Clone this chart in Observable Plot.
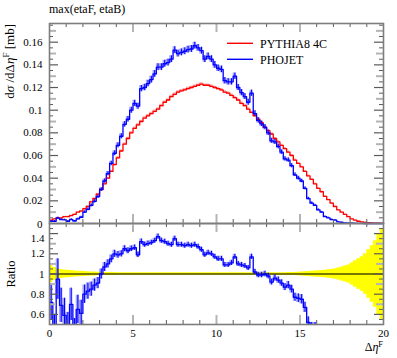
<!DOCTYPE html>
<html><head><meta charset="utf-8">
<script src="https://cdn.jsdelivr.net/npm/d3@7"></script>
<script src="https://cdn.jsdelivr.net/npm/@observablehq/plot@0.6"></script>
<style>
body{margin:0;background:#fff;}
#chart{position:relative;width:397px;height:358px;overflow:hidden;background:#fff;}
#chart svg{position:absolute;left:0;overflow:visible;}
</style></head><body><div id="chart"></div>
<script>
// ---------- data (bin width 0.2 on Δη^F from 0 to 20) ----------
const binEdges = d3.range(101).map(i => +(i * 0.2).toFixed(1));

const pythia = [
0.003,0.004,0.005,0.005,0.006,0.006,0.007,0.008,0.010,0.011,
0.013,0.015,0.019,0.022,0.026,0.030,0.035,0.040,0.046,0.052,
0.058,0.064,0.070,0.075,0.080,0.084,0.087,0.090,0.093,0.095,
0.097,0.099,0.101,0.104,0.107,0.109,0.112,0.114,0.116,0.117,
0.118,0.119,0.120,0.121,0.122,0.123,0.122,0.122,0.121,0.120,
0.119,0.118,0.116,0.115,0.113,0.111,0.109,0.106,0.104,0.101,
0.098,0.095,0.092,0.089,0.085,0.082,0.079,0.075,0.072,0.069,
0.066,0.063,0.060,0.056,0.053,0.050,0.046,0.042,0.039,0.035,
0.031,0.028,0.024,0.021,0.018,0.015,0.012,0.010,0.008,0.006,
0.004,0.003,0.002,0.0015,0.001,0.0007,0.0005,0.0003,0.0002,0.0001];

const pythiaErr = [
0.0003,0.0003,0.0003,0.0003,0.0003,0.0003,0.0004,0.0004,0.0004,0.0005,
0.0005,0.0006,0.0006,0.0007,0.0007,0.0008,0.0008,0.0009,0.0009,0.001,
0.001,0.001,0.001,0.0011,0.0011,0.0011,0.0011,0.0011,0.0011,0.0011,
0.0012,0.0012,0.0012,0.0012,0.0012,0.0012,0.0012,0.0012,0.0012,0.0012,
0.0012,0.0012,0.0012,0.0012,0.0012,0.0012,0.0012,0.0012,0.0012,0.0012,
0.0012,0.0012,0.0012,0.0012,0.0012,0.0012,0.0012,0.0012,0.0012,0.0012,
0.0011,0.0011,0.0011,0.0011,0.0011,0.0011,0.001,0.001,0.001,0.001,
0.001,0.0009,0.0009,0.0009,0.0009,0.0008,0.0008,0.0008,0.0007,0.0007,
0.0006,0.0006,0.0006,0.0005,0.0005,0.0005,0.0004,0.0004,0.0003,0.0003,
0.0003,0.0002,0.0002,0.0002,0.0001,0.0001,0.0001,0.0001,0.0001,0.0001];

const phojet = [
0.002,0.002,0.0048,0.0035,0.0032,0.002,0.0035,0.0022,0.004,0.0055,
0.0100,0.0125,0.0160,0.0196,0.0237,0.030,0.0375,0.044,0.053,0.062,
0.069,0.077,0.0875,0.092,0.100,0.106,0.1035,0.119,0.120,0.1235,
0.127,0.132,0.138,0.138,0.141,0.142,0.145,0.153,0.150,0.151,
0.152,0.1535,0.154,0.157,0.155,0.1525,0.145,0.1475,0.145,0.140,
0.137,0.136,0.126,0.125,0.125,0.130,0.120,0.1155,0.112,0.107,
0.115,0.097,0.091,0.088,0.085,0.080,0.073,0.072,0.068,0.063,
0.057,0.056,0.051,0.043,0.040,0.0375,0.031,0.022,0.018,0.016,
0.012,0.010,0.006,0.005,0.0035,0.003,0.0015,0.001,0.0006,0.0004,
0.0002,0.0001,0.0001,0.0001,0,0,0,0,0,0];

const phojetErr = [
0.0005,0.0005,0.0008,0.0007,0.0006,0.0005,0.0007,0.0005,0.0007,0.0008,
0.0011,0.0012,0.0013,0.0014,0.0015,0.0016,0.0018,0.0019,0.002,0.0021,
0.0022,0.0023,0.0024,0.0025,0.0026,0.0027,0.0027,0.0028,0.0028,0.0029,
0.003,0.003,0.003,0.003,0.003,0.003,0.003,0.003,0.003,0.003,
0.003,0.003,0.003,0.003,0.003,0.003,0.003,0.003,0.003,0.003,
0.0029,0.0029,0.0028,0.0028,0.0028,0.0028,0.0027,0.0027,0.0026,0.0026,
0.0027,0.0025,0.0024,0.0024,0.0023,0.0023,0.0022,0.0022,0.0021,0.002,
0.0019,0.0019,0.0018,0.0016,0.0016,0.0015,0.0013,0.0011,0.001,0.0009,
0.0008,0.0007,0.0006,0.0005,0.0004,0.0004,0.0003,0.0003,0.0002,0.0002,
0.0001,0.0001,0,0,0,0,0,0,0,0];

// PHOJET / PYTHIA8 4C
const ratio = [
0.72,0.40,0.95,0.69,0.59,0.42,0.70,0.36,0.65,0.61,
0.80,0.83,0.85,0.89,0.91,1.00,1.07,1.10,1.15,1.20,
1.19,1.20,1.25,1.23,1.25,1.26,1.19,1.32,1.29,1.30,
1.31,1.33,1.37,1.33,1.32,1.30,1.29,1.35,1.29,1.29,
1.28,1.29,1.28,1.29,1.27,1.24,1.19,1.21,1.20,1.17,
1.15,1.15,1.09,1.09,1.11,1.17,1.10,1.09,1.08,1.06,
1.17,1.02,0.99,0.99,1.00,0.98,0.92,0.96,0.94,0.91,
0.87,0.89,0.85,0.77,0.76,0.75,0.67,0.52,0.46,0.46,
0.39,0.36,0.25,0.24,0.19,0.16,0.12,null,null,null,
null,null,null,null,null,null,null,null,null,null];

const ratioErr = [
0.18,0.2,0.2,0.17,0.17,0.2,0.16,0.2,0.14,0.13,
0.09,0.08,0.07,0.06,0.055,0.05,0.045,0.04,0.038,0.035,
0.033,0.031,0.03,0.029,0.028,0.027,0.027,0.027,0.026,0.026,
0.025,0.025,0.025,0.025,0.025,0.025,0.025,0.025,0.025,0.025,
0.025,0.025,0.025,0.025,0.025,0.025,0.025,0.025,0.025,0.025,
0.025,0.025,0.025,0.025,0.025,0.025,0.025,0.025,0.025,0.025,
0.026,0.026,0.027,0.027,0.028,0.028,0.029,0.03,0.031,0.032,
0.034,0.036,0.038,0.04,0.043,0.046,0.05,0.055,0.06,0.06,
0.06,0.06,0.06,0.06,0.06,0.06,0.06,0,0,0,
0,0,0,0,0,0,0,0,0,0];

// relative uncertainty band of the reference (PYTHIA8 4C)
const refBand = [
0.085,0.065,0.05,0.045,0.04,0.037,0.034,0.03,0.028,0.026,
0.024,0.022,0.02,0.019,0.018,0.017,0.016,0.015,0.015,0.014,
0.013,0.013,0.013,0.013,0.013,0.013,0.013,0.013,0.013,0.013,
0.012,0.012,0.012,0.012,0.012,0.012,0.012,0.012,0.012,0.012,
0.012,0.012,0.012,0.012,0.012,0.012,0.012,0.012,0.012,0.012,
0.012,0.012,0.012,0.012,0.012,0.012,0.012,0.012,0.012,0.012,
0.012,0.012,0.012,0.012,0.012,0.012,0.013,0.013,0.013,0.013,
0.013,0.014,0.015,0.016,0.017,0.02,0.022,0.025,0.028,0.03,
0.032,0.035,0.038,0.041,0.045,0.052,0.06,0.07,0.08,0.09,
0.11,0.13,0.15,0.17,0.2,0.24,0.28,0.33,0.4,0.45];

const seriesNames = ["PYTHIA8 4C", "PHOJET"];
const seriesColors = ["#ff0000", "#0000ff"];
const mainYTicks = [0, 0.02, 0.04, 0.06, 0.08, 0.1, 0.12, 0.14, 0.16];
const ratioYTicks = [0.6, 0.8, 1, 1.2, 1.4];
const xTicks = [0, 5, 10, 15, 20];

// ---------- build tables ----------
const bins = pythia.map((v, i) => ({
  x: binEdges[i], xc: (binEdges[i] + binEdges[i + 1]) / 2,
  py: v, pyE: pythiaErr[i], ph: phojet[i], phE: phojetErr[i],
  r: ratio[i], rE: ratioErr[i], band: refBand[i]
}));
const steps = [...bins, {...bins[bins.length - 1], x: binEdges[binEdges.length - 1]}];

const FONT = "Liberation Serif, Times New Roman, DejaVu Serif, serif";
const DARK = "#5a5a5a", LIGHT = "#b4b4b4", FRAME = "#7d7d7d";
const W = 397, ML = 49, MR = 14;
const PW = W - ML - MR;

const rng = (a, b, s) => d3.range(Math.round((b - a) / s) + 1).map(i => +(a + i * s).toFixed(4));

function frameTicks(PH, xMinor, xMajor, yMajor, yMid, yMinor) {
  const m = [];
  for (const [xs, len, col, sw] of [[xMinor, 4, DARK, 1], [xMajor, 9, LIGHT, 2]]) {
    m.push(Plot.ruleX(xs, {x: d => d, insetTop: PH - len, stroke: col, strokeWidth: sw}));
    m.push(Plot.ruleX(xs, {x: d => d, insetBottom: PH - len, stroke: col, strokeWidth: sw}));
  }
  for (const [ys, len, col, sw] of [[yMinor, 4, DARK, 1], [yMid, 7, LIGHT, 2], [yMajor, 9, DARK, 1.2]]) {
    m.push(Plot.ruleY(ys, {y: d => d, insetRight: PW - len, stroke: col, strokeWidth: sw}));
    m.push(Plot.ruleY(ys, {y: d => d, insetLeft: PW - len, stroke: col, strokeWidth: sw}));
  }
  m.push(Plot.frame({stroke: FRAME, strokeWidth: 1.6}));
  return m;
}
const xMinor = d3.range(1, 20).filter(d => d % 5 !== 0);
const xMajor = [5, 10, 15];

// ---------- main panel ----------
const MH = 224, MT = 23, MB = 1;
const mainPlot = Plot.plot({
  width: W, height: MH, marginLeft: ML, marginRight: MR, marginTop: MT, marginBottom: MB,
  style: {fontFamily: FONT, fontSize: "11px", color: "#000", background: "transparent", overflow: "visible"},
  x: {domain: [0, 20], axis: null},
  y: {domain: [0, 0.1765], ticks: mainYTicks, tickSize: 0, tickPadding: 7,
      tickFormat: d => String(+d.toFixed(3)), label: null},
  marks: [
    Plot.areaY(steps, {x: "x", y1: d => Math.max(0, d.py - d.pyE), y2: d => d.py + d.pyE,
      curve: "step-after", fill: seriesColors[0], fillOpacity: 0.35}),
    Plot.areaY(steps, {x: "x", y1: d => Math.max(0, d.ph - d.phE), y2: d => d.ph + d.phE,
      curve: "step-after", fill: seriesColors[1], fillOpacity: 0.35}),
    Plot.line(steps, {x: "x", y: "py", curve: "step-after", stroke: seriesColors[0], strokeWidth: 1.3}),
    Plot.line(steps, {x: "x", y: "ph", curve: "step-after", stroke: seriesColors[1], strokeWidth: 1.3}),
    Plot.ruleX(bins.filter(d => d.phE > 0), {x: "xc", y1: d => Math.max(0, d.ph - d.phE), y2: d => d.ph + d.phE,
      stroke: seriesColors[1], strokeWidth: 1}),
    ...frameTicks(MH - MT - MB, xMinor, xMajor, rng(0.02, 0.16, 0.02), rng(0.01, 0.17, 0.02), rng(0.005, 0.175, 0.01))
  ]
});
mainPlot.style.top = "0px";

// ---------- ratio panel ----------
const RTOP = 213, RH = 145, RT = 10, RB = 34;
const rSteps = steps.map(d => ({...d, r: d.r == null ? NaN : d.r}));
const ratioPlot = Plot.plot({
  width: W, height: RH, marginLeft: ML, marginRight: MR, marginTop: RT, marginBottom: RB,
  style: {fontFamily: FONT, fontSize: "11px", color: "#000", background: "transparent", overflow: "visible"},
  x: {domain: [0, 20], ticks: xTicks, tickSize: 0, tickPadding: 5, tickFormat: d => String(d), label: null},
  y: {domain: [0.5, 1.5], ticks: ratioYTicks, tickSize: 0, tickPadding: 5,
      tickFormat: d => String(+d.toFixed(2)), label: null},
  marks: [
    Plot.areaY(steps, {x: "x", y1: d => 1 - d.band, y2: d => 1 + d.band, curve: "step-after", fill: "#ffff00"}),
    Plot.ruleY([1], {stroke: "#4d4d00", strokeWidth: 1.6}),
    Plot.areaY(rSteps.filter(d => !isNaN(d.r)), {x: "x", y1: d => d.r - d.rE, y2: d => d.r + d.rE,
      curve: "step-after", fill: seriesColors[1], fillOpacity: 0.35, clip: true}),
    Plot.line(rSteps, {x: "x", y: "r", curve: "step-after", stroke: seriesColors[1], strokeWidth: 1.3, clip: true}),
    Plot.ruleX(bins.filter(d => d.r != null), {x: "xc", y1: d => d.r - d.rE, y2: d => d.r + d.rE,
      stroke: seriesColors[1], strokeWidth: 1, clip: true}),
    ...frameTicks(RH - RT - RB, xMinor, xMajor, ratioYTicks, [0.7, 0.9, 1.1, 1.3], rng(0.55, 1.45, 0.1))
  ]
});
ratioPlot.style.top = RTOP + "px";

const chart = document.getElementById("chart");
chart.appendChild(mainPlot);
chart.appendChild(ratioPlot);

// keep the "0" label of the upper panel clear of the "1.4" label below it
for (const t of mainPlot.querySelectorAll("text")) {
  if (t.textContent === "0") t.setAttribute("dy", "0.05em");
}
for (const t of ratioPlot.querySelectorAll("text")) {
  if (t.textContent === "1.4") t.setAttribute("dy", "0.42em");
}

// ---------- texts ----------
function addText(svg, x, y, parts, {anchor = "start", size = 12, rotate = 0} = {}) {
  const t = d3.select(svg).append("text")
    .attr("transform", `translate(${x},${y}) rotate(${rotate})`)
    .attr("text-anchor", anchor).attr("font-family", FONT).attr("font-size", size).attr("fill", "#000");
  for (const p of parts) {
    const s = t.append("tspan").text(p.t);
    if (p.i) s.attr("font-style", "italic");
    if (p.sup) s.attr("dy", -size * 0.35).attr("font-size", size * 0.7);
    if (p.after) s.attr("dy", size * 0.35);
  }
  return t;
}
addText(mainPlot, ML, 13, [{t: "max(etaF, etaB)"}], {size: 12});
addText(mainPlot, 14, 24, [{t: "d"}, {t: "σ", i: 1}, {t: " /dΔ"}, {t: "η", i: 1}, {t: "F", sup: 1}, {t: " [mb]", after: 1}],
  {anchor: "end", size: 13, rotate: -90});
addText(ratioPlot, 15, 274 - RTOP, [{t: "Ratio"}], {anchor: "middle", size: 12.5, rotate: -90});
addText(ratioPlot, W - MR, 351 - RTOP, [{t: "Δ"}, {t: "η", i: 1}, {t: "F", sup: 1}], {anchor: "end", size: 12});

// legend
const leg = d3.select(mainPlot);
seriesNames.forEach((name, i) => {
  const y = 43.3 + i * 16;
  leg.append("line").attr("x1", 227).attr("x2", 253).attr("y1", y).attr("y2", y)
    .attr("stroke", seriesColors[i]).attr("stroke-width", 1.4);
  leg.append("text").attr("x", 260).attr("y", y + 4.2).attr("text-anchor", "start")
    .attr("font-family", FONT).attr("font-size", 12).attr("fill", "#000").text(name);
});
</script></body></html>
